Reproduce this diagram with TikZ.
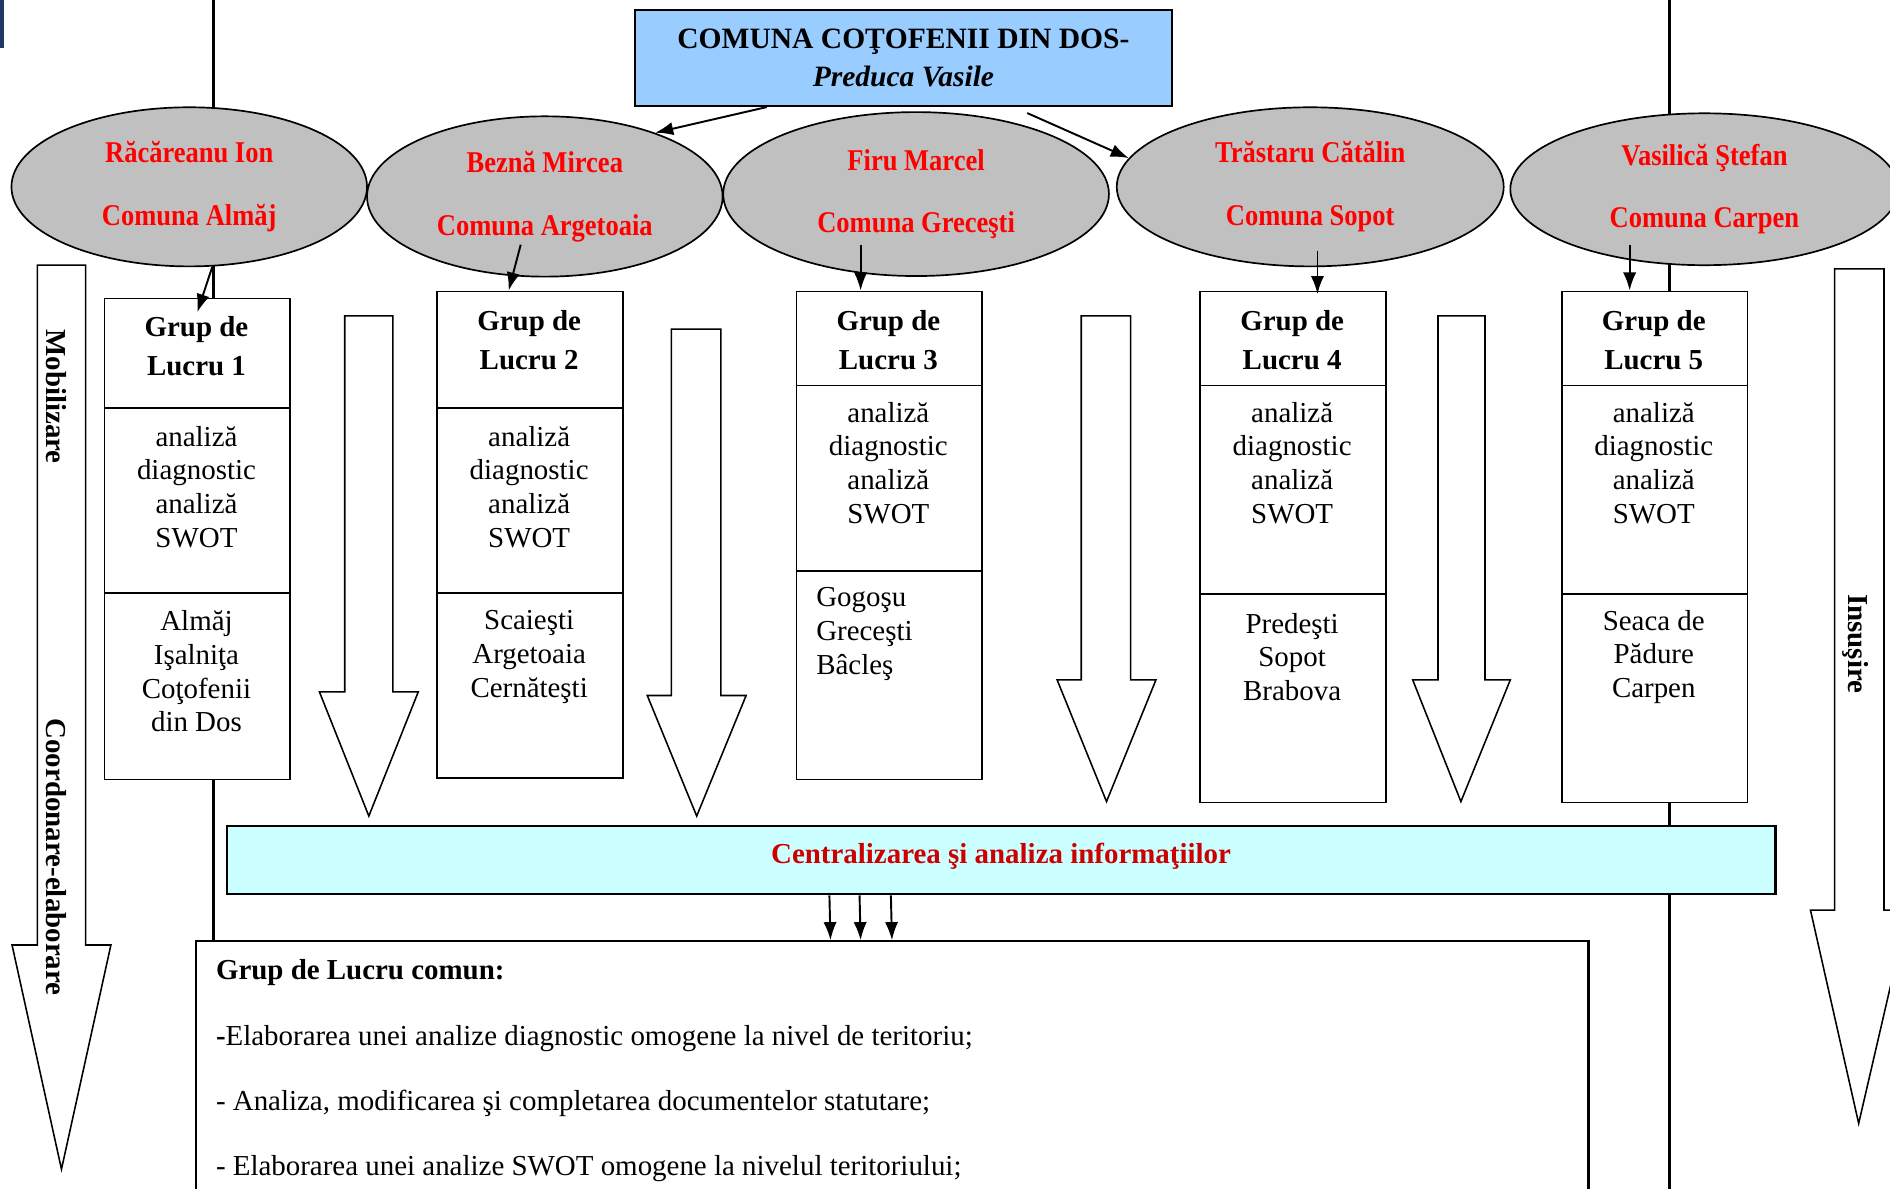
\documentclass[tikz,border=0pt]{standalone}
\usepackage{fontspec}
\setmainfont{Liberation Serif}
\newfontfamily\condfont[FakeStretch=0.88]{Liberation Serif}
\usetikzlibrary{arrows.meta,shapes.geometric,calc}
\definecolor{titleblue}{RGB}{153,204,255}
\definecolor{ellgray}{RGB}{192,192,192}
\definecolor{cyanfill}{RGB}{204,255,255}
\definecolor{darkred}{RGB}{204,0,0}
\definecolor{navyblue}{RGB}{31,56,100}
\begin{document}
\begin{tikzpicture}[x=1pt,y=-1pt,
  body/.style={font=\fontsize{24}{28}\selectfont, align=center, inner sep=0},
  head/.style={font=\bfseries\fontsize{24}{32}\selectfont, align=center, inner sep=0},
  cell/.style={draw, line width=1.4pt, minimum width=154pt, anchor=north west, inner sep=0, fill=white},
  ell/.style={ellipse, draw, line width=1.4pt, fill=ellgray, inner sep=0, text=red, align=center,
     font=\condfont\bfseries\fontsize{25}{52}\selectfont},
  conn/.style={line width=1.6pt, -{Latex[length=15pt,width=11pt]}},
  thick line/.style={line width=3pt},
  hollow/.style={draw, line width=1.3pt, fill=white, line join=miter},
  vlabel/.style={rotate=-90, font=\bfseries\fontsize{24}{28}\selectfont, inner sep=0},
  bline/.style={anchor=base west, inner sep=0, font=\fontsize{24}{28}\selectfont}
]
\useasboundingbox (0,0) rectangle (1568,986);
\clip (0,0) rectangle (1568,986);
\fill[white] (0,0) rectangle (1568,986);
\fill[navyblue] (0,0) rectangle (3,40);

% thick vertical lines (behind everything)
\draw[thick line] (177,0) -- (177,780);
\draw[thick line] (1385,0) -- (1385,990);

% big side arrows
\draw[hollow] (31,220) -- (71,220) -- (71,784) -- (92,784) -- (51,970) -- (10,784) -- (31,784) -- cycle;
\draw[hollow] (1522,223) -- (1563,223) -- (1563,755) -- (1583,755) -- (1542,932) -- (1502,755) -- (1522,755) -- cycle;
\node[vlabel] (mob) at (47,329) {Mobilizare};
\node[vlabel] (coord) at (47,711) {Coordonare-elaborare};
\node[vlabel] (ins) at (1539,534) {Insuşire};

% middle hollow arrows
\draw[hollow] (286,262) -- (326,262) -- (326,574) -- (347,574) -- (306,677) -- (265,574) -- (286,574) -- cycle;
\draw[hollow] (557,273) -- (598,273) -- (598,577) -- (619,577) -- (578,677) -- (537,577) -- (557,577) -- cycle;
\draw[hollow] (897,262) -- (938,262) -- (938,564) -- (959,564) -- (918,665) -- (877,564) -- (897,564) -- cycle;
\draw[hollow] (1193,262) -- (1232,262) -- (1232,564) -- (1253,564) -- (1212,665) -- (1172,564) -- (1193,564) -- cycle;

% title
\node[draw, line width=1.6pt, fill=titleblue, minimum width=445pt, minimum height=80pt, inner sep=0,
  align=center, font=\bfseries\fontsize{24.5}{32}\selectfont] (title) at (749.5,48)
  {COMUNA COŢOFENII DIN DOS-\\\textit{Preduca Vasile}};

% ellipses
\node[ell, minimum width=295pt, minimum height=132pt] (e1) at (157,155) {Răcăreanu Ion\\Comuna Almăj};
\node[ell, minimum width=295pt, minimum height=133pt] (e2) at (452,163) {Beznă Mircea\\Comuna Argetoaia};
\node[ell, minimum width=320pt, minimum height=136pt] (e3) at (760,161) {Firu Marcel\\Comuna Greceşti};
\node[ell, minimum width=321pt, minimum height=132pt] (e4) at (1087,155) {Trăstaru Cătălin\\Comuna Sopot};
\node[ell, minimum width=322pt, minimum height=126pt] (e5) at (1414,157) {Vasilică Ştefan\\Comuna Carpen};

% group boxes: header / middle / bottom cells
\node[cell, minimum height=91pt]  (g1h) at (86,247) {};
\node[cell, minimum height=153pt] (g1m) at (86,338) {};
\node[cell, minimum height=155pt] (g1b) at (86,491) {};
\node[cell, minimum height=97pt]  (g2h) at (362,241) {};
\node[cell, minimum height=153pt] (g2m) at (362,338) {};
\node[cell, minimum height=154pt] (g2b) at (362,491) {};
\node[cell, minimum height=78pt]  (g3h) at (660,241) {};
\node[cell, minimum height=154pt] (g3m) at (660,319) {};
\node[cell, minimum height=173pt] (g3b) at (660,473) {};
\node[cell, minimum height=78pt]  (g4h) at (995,241) {};
\node[cell, minimum height=173pt] (g4m) at (995,319) {};
\node[cell, minimum height=173pt] (g4b) at (995,492) {};
\node[cell, minimum height=78pt]  (g5h) at (1295,241) {};
\node[cell, minimum height=173pt] (g5m) at (1295,319) {};
\node[cell, minimum height=173pt] (g5b) at (1295,492) {};

\node[head] (t1h) at (163,287) {Grup de\\Lucru 1};
\node[head] (t2h) at (439,282) {Grup de\\Lucru 2};
\node[head] (t3h) at (737,282) {Grup de\\Lucru 3};
\node[head] (t4h) at (1072,282) {Grup de\\Lucru 4};
\node[head] (t5h) at (1372,282) {Grup de\\Lucru 5};

\node[body] (t1m) at (163,404) {analiză\\diagnostic\\analiză\\SWOT};
\node[body] (t2m) at (439,404) {analiză\\diagnostic\\analiză\\SWOT};
\node[body] (t3m) at (737,384) {analiză\\diagnostic\\analiză\\SWOT};
\node[body] (t4m) at (1072,384) {analiză\\diagnostic\\analiză\\SWOT};
\node[body] (t5m) at (1372,384) {analiză\\diagnostic\\analiză\\SWOT};

\node[body] (t1b) at (163,557) {Almăj\\Işalniţa\\Coţofenii\\din Dos};
\node[body] (t2b) at (439,545) {Scaieşti\\Argetoaia\\Cernăteşti};
\node[body, align=left, anchor=west] (t3b) at (677,526) {Gogoşu\\Greceşti\\Bâcleş};
\node[body] (t4b) at (1072,545) {Predeşti\\Sopot\\Brabova};
\node[body] (t5b) at (1372,545) {Seaca de\\Pădure\\Carpen};

% centralisation box
\node[draw, line width=1.8pt, fill=cyanfill, minimum width=1285pt, minimum height=57pt, inner sep=0]
  (cent) at (830.5,713.5) {};
\node[inner sep=0, text=darkred, font=\bfseries\fontsize{24}{28}\selectfont] (centtxt) at (830.5,710)
  {Centralizarea şi analiza informaţiilor};

% common group box
\node[draw, line width=1.8pt, fill=white, anchor=north west, minimum width=1155pt, minimum height=240pt, inner sep=0]
  (comun) at (162,780) {};
\node[bline, font=\bfseries\fontsize{24}{28}\selectfont] (c0) at (179,813) {Grup de Lucru comun:};
\node[bline] (c1) at (179,867) {\textbf{-}Elaborarea unei analize diagnostic omogene la nivel de teritoriu;};
\node[bline] (c2) at (179,921) {- Analiza, modificarea şi completarea documentelor statutare;};
\node[bline] (c3) at (179,975) {- Elaborarea unei analize SWOT omogene la nivelul teritoriului;};

% connectors
\draw[conn] ($(title.south west)+(110,0)$) -- (e2.30);
\coordinate (t2) at ($(title.south west)+(326,5)$);
\draw[conn] (t2) -- (e4.171);
\coordinate (a1) at ($(e1.south)+(19,0)$);
\draw[conn] (a1) -- ($(g1h.north)+(0,12)$);
\draw[conn] ($(e2.center)+(-20,40)$) -- ($(g2h.north west)+(60,0)$);
\draw[conn] ($(e3.center)+(-46,42)$) -- ($(g3h.north west)+(54,0)$);
\draw[conn] ($(e4.center)+(6,53)$) -- ($(g4h.north west)+(98,3)$);
\draw[conn] ($(e5.center)+(-62,46)$) -- ($(g5h.north west)+(57,0)$);
\draw[conn] ($(cent.south west)+(501,0)$) -- ($(comun.north west)+(527,0)$);
\draw[conn] ($(cent.south west)+(526,0)$) -- ($(comun.north west)+(552,0)$);
\draw[conn] ($(cent.south west)+(552,0)$) -- ($(comun.north west)+(578,0)$);
\end{tikzpicture}
\end{document}
